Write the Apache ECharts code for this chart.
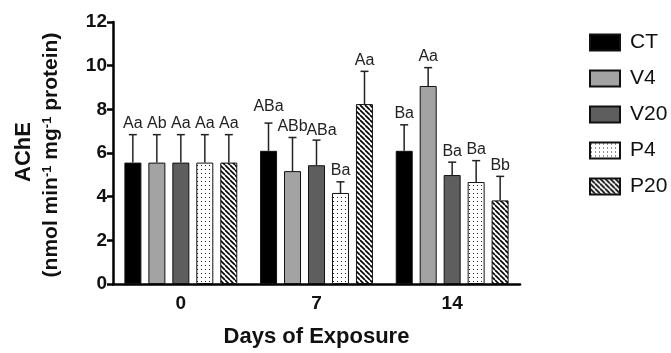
<!DOCTYPE html>
<html><head><meta charset="utf-8">
<script src="https://cdn.jsdelivr.net/npm/echarts@6/dist/echarts.min.js"></script>
<style>html,body{margin:0;padding:0;background:#fff}#c{width:671px;height:353px}</style>
</head><body><div id="c"></div>
<script>
var categories = ['0', '7', '14'];
var seriesNames = ['CT', 'V4', 'V20', 'P4', 'P20'];
var yTicks = [0, 2, 4, 6, 8, 10, 12];
// means
var CT  = [5.56, 6.10, 6.10];
var V4  = [5.56, 5.17, 9.07];
var V20 = [5.56, 5.44, 4.99];
var P4  = [5.56, 4.17, 4.67];
var P20 = [5.56, 8.24, 3.83];
// upper error (SD)
var CT_err  = [1.28, 1.27, 1.19];
var V4_err  = [1.28, 1.54, 0.84];
var V20_err = [1.28, 1.15, 0.59];
var P4_err  = [1.28, 0.51, 0.98];
var P20_err = [1.28, 1.50, 1.10];
// significance letters
var CT_lab  = ['Aa', 'ABa', 'Ba'];
var V4_lab  = ['Ab', 'ABb', 'Aa'];
var V20_lab = ['Aa', 'ABa', 'Ba'];
var P4_lab  = ['Aa', 'Ba', 'Ba'];
var P20_lab = ['Aa', 'Aa', 'Bb'];

var means = [CT, V4, V20, P4, P20];
var errs = [CT_err, V4_err, V20_err, P4_err, P20_err];
var labs = [CT_lab, V4_lab, V20_lab, P4_lab, P20_lab];

var FONT = "'Liberation Sans', Arial, Helvetica, sans-serif";

function makeDots() {
  var c = document.createElement('canvas'); c.width = 4; c.height = 4;
  var g = c.getContext('2d');
  g.fillStyle = '#fff'; g.fillRect(0, 0, 4, 4);
  g.fillStyle = '#222'; g.fillRect(1, 1, 1, 1);
  return c;
}
function makeStripes() {
  var s = 5;
  var c = document.createElement('canvas'); c.width = s; c.height = s;
  var g = c.getContext('2d');
  g.fillStyle = '#fff'; g.fillRect(0, 0, s, s);
  g.strokeStyle = '#000'; g.lineWidth = 1.6;
  for (var k = -1; k <= 1; k++) {
    g.beginPath(); g.moveTo(k * s, 0); g.lineTo(k * s + s, s); g.stroke();
  }
  return c;
}

var fills = ['#000000', '#a3a3a3', '#5e5e5e',
  { image: makeDots(), repeat: 'repeat' },
  { image: makeStripes(), repeat: 'repeat' }];

var BAR_W = 17, STEP = 24;
var labelAdj = { '0-1': [0, -5], '2-1': [5, 1] };

var series = [];
seriesNames.forEach(function (n, i) {
  series.push({
    name: n, type: 'bar', data: means[i], barWidth: BAR_W, barGap: '41%',
    itemStyle: { color: fills[i], borderColor: '#111', borderWidth: 1 },
    z: 2
  });
});
seriesNames.forEach(function (n, i) {
  series.push({
    name: n + '_err', type: 'custom', z: 3,
    data: means[i].map(function (m, j) { return [j, m, m + errs[i][j], labs[i][j]]; }),
    renderItem: function (params, api) {
      var j = api.value(0);
      var base = api.coord([j, api.value(1)]);
      var top = api.coord([j, api.value(2)]);
      var x = base[0] + (i - 2) * STEP;
      var adj = labelAdj[i + '-' + j] || [0, 0];
      return {
        type: 'group', children: [
          { type: 'line', shape: { x1: x, y1: base[1], x2: x, y2: top[1] }, style: { stroke: '#222', lineWidth: 1.5 } },
          { type: 'line', shape: { x1: x - 4, y1: top[1], x2: x + 4, y2: top[1] }, style: { stroke: '#222', lineWidth: 1.5 } },
          { type: 'text', x: x + adj[0], y: top[1] - 11 + adj[1],
            style: { text: labs[i][j], font: '16px ' + FONT, fill: '#222', align: 'center', verticalAlign: 'middle' } }
        ]
      };
    }
  });
});

var chart = echarts.init(document.getElementById('c'), null, { renderer: 'canvas' });
chart.setOption({
  animation: false,
  backgroundColor: '#fff',
  grid: { left: 113, right: 151, top: 22, bottom: 63, containLabel: false },
  legend: {
    data: seriesNames, orient: 'vertical', left: 584, top: 27,
    itemWidth: 30, itemHeight: 16, itemGap: 15, icon: 'rect',
    textStyle: { fontFamily: FONT, fontSize: 21, color: '#111', padding: [0, 0, 0, 5] }
  },
  xAxis: {
    type: 'category', data: categories,
    axisLine: { lineStyle: { color: '#000', width: 2.5 } },
    axisTick: { alignWithLabel: true, length: 6, lineStyle: { color: '#000', width: 2.5 } },
    axisLabel: { fontFamily: FONT, fontSize: 19, fontWeight: 'bold', color: '#111', margin: 10 },
    name: 'Days of Exposure', nameLocation: 'middle', nameGap: 42,
    nameTextStyle: { fontFamily: FONT, fontSize: 22, fontWeight: 'bold', color: '#111' }
  },
  yAxis: {
    type: 'value', min: 0, max: 12, interval: 2,
    axisLine: { show: true, lineStyle: { color: '#000', width: 2.5 } },
    axisTick: { show: true, length: 6, lineStyle: { color: '#000', width: 2.5 } },
    splitLine: { show: false },
    axisLabel: { fontFamily: FONT, fontSize: 19, fontWeight: 'bold', color: '#111', margin: 6,
      formatter: function (v) { return yTicks.indexOf(v) >= 0 ? String(v) : ''; } }
  },
  graphic: [
    { type: 'text', x: 24, y: 152, rotation: Math.PI / 2,
      style: { text: 'AChE', font: 'bold 22px ' + FONT, fill: '#111', align: 'center', verticalAlign: 'middle' } },
    { type: 'text', x: 51, y: 155, rotation: Math.PI / 2,
      style: { text: '{a|(nmol min}{s|-1}{a| mg}{s|-1}{a| protein)}', align: 'center', verticalAlign: 'middle', fill: '#111',
        rich: {
          a: { font: 'bold 21px ' + FONT, fill: '#111', verticalAlign: 'bottom' },
          s: { font: 'bold 13px ' + FONT, fill: '#111', verticalAlign: 'top' }
        } } }
  ],
  series: series
});
</script></body></html>
